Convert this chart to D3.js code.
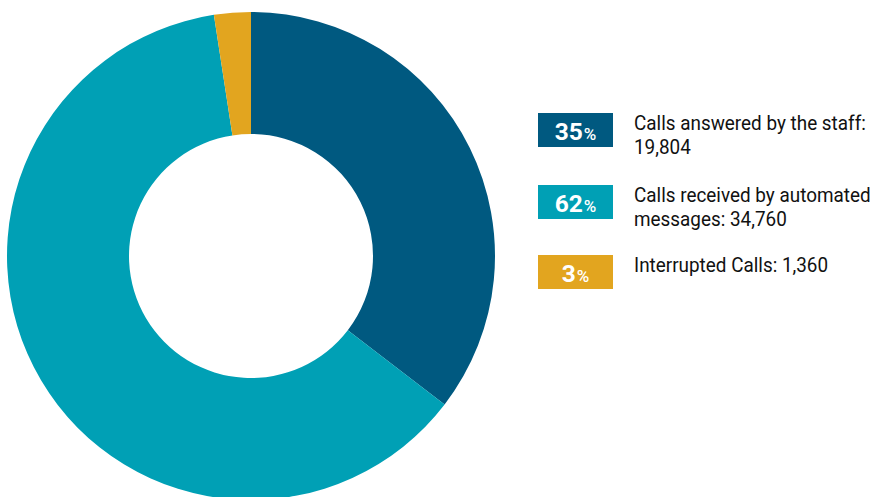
<!DOCTYPE html>
<html>
<head>
<meta charset="utf-8">
<script src="https://cdn.jsdelivr.net/npm/d3@7"></script>
<style>
  html, body { margin: 0; padding: 0; background: #fff; }
  svg { display: block; }
</style>
</head>
<body>
<svg id="chart" width="880" height="497"></svg>
<script>
// Call distribution
const categories = ["Calls answered by the staff", "Calls received by automated messages", "Interrupted Calls"];
const values = [19804, 34760, 1360];
const percentLabels = ["35", "62", "3"];
const legendLines = [
  ["Calls answered by the staff:", "19,804"],
  ["Calls received by automated", "messages: 34,760"],
  ["Interrupted Calls: 1,360"]
];
const colors = ["#005980", "#00a0b5", "#e2a51f"];

const svg = d3.select("#chart");
const cx = 251, cy = 256, outerR = 244, innerR = 122;

const pie = d3.pie().sort(null).value(d => d.value);
const arc = d3.arc().innerRadius(innerR).outerRadius(outerR);
const color = d3.scaleOrdinal().domain(categories).range(colors);

const data = categories.map((c, i) => ({ name: c, value: values[i] }));

svg.append("g")
  .attr("transform", `translate(${cx},${cy})`)
  .selectAll("path")
  .data(pie(data))
  .join("path")
  .attr("d", arc)
  .attr("fill", d => color(d.data.name));

// Legend
const font = "Roboto, 'Noto Sans', sans-serif";
const legendY = [113, 185, 255];
const legend = svg.append("g");
const items = legend.selectAll("g")
  .data(data)
  .join("g")
  .attr("transform", (d, i) => `translate(538,${legendY[i]})`);

items.append("rect")
  .attr("width", 75).attr("height", 34)
  .attr("fill", d => color(d.name));

const pct = items.append("text")
  .attr("x", 37.5).attr("y", 26.5)
  .attr("text-anchor", "middle")
  .attr("fill", "#fff")
  .attr("font-family", font);
pct.append("tspan")
  .attr("font-size", 24.5).attr("font-weight", 700)
  .text((d, i) => percentLabels[i]);
pct.append("tspan")
  .attr("font-size", 17).attr("font-weight", 500)
  .attr("dx", 1)
  .text("%");

// condensed label text
const label = items.append("text")
  .attr("transform", "translate(96,17) scale(0.9,1)")
  .attr("fill", "#111")
  .attr("font-family", font)
  .attr("font-size", 21);
label.selectAll("tspan")
  .data((d, i) => legendLines[i])
  .join("tspan")
  .attr("x", 0)
  .attr("dy", (d, j) => j === 0 ? 0 : 24.5)
  .text(d => d);
</script>
</body>
</html>
